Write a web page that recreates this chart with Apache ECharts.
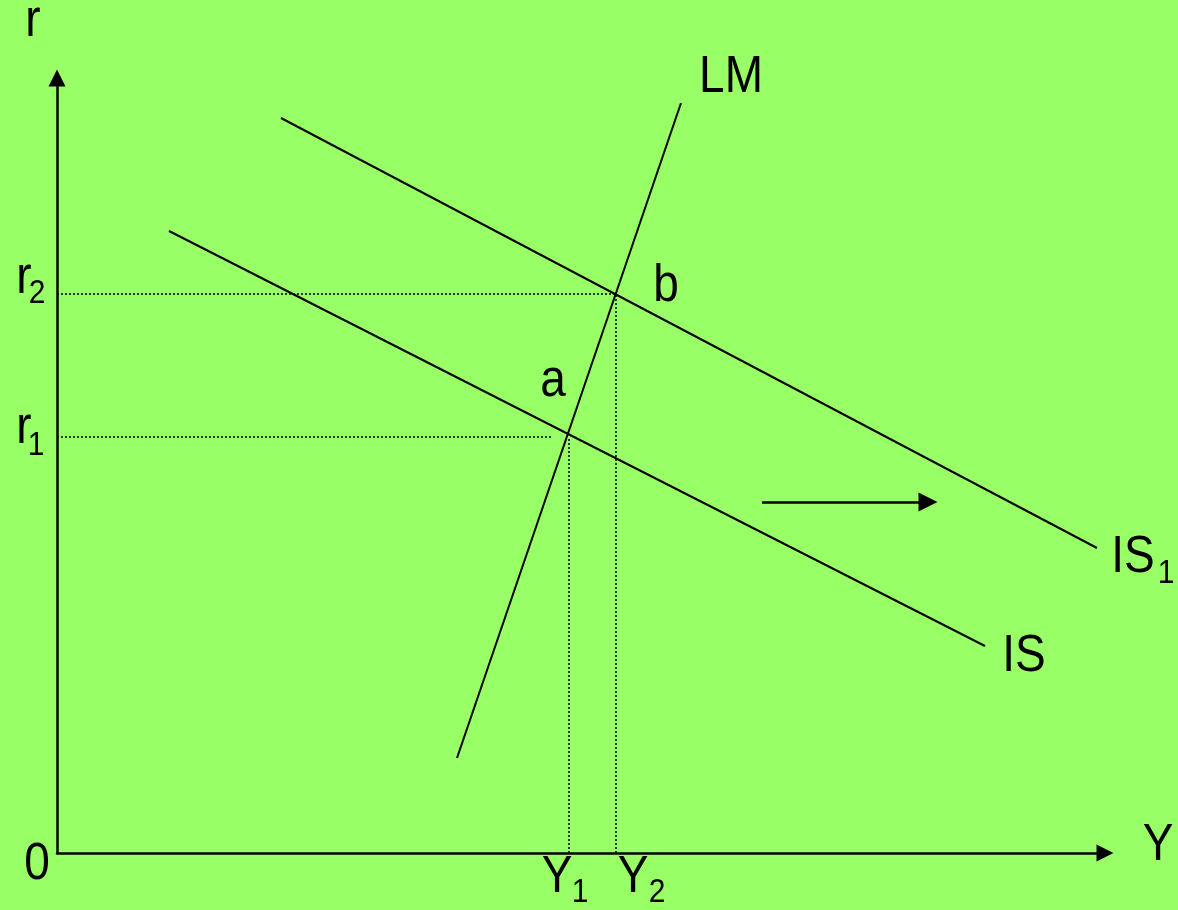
<!DOCTYPE html>
<html>
<head>
<meta charset="utf-8">
<script src="https://cdn.jsdelivr.net/npm/echarts@6/dist/echarts.min.js"></script>
<style>
  html, body { margin: 0; padding: 0; background: #99ff66; }
  #main { width: 1178px; height: 910px; }
</style>
</head>
<body>
<div id="main"></div>
<script>
// curve end points (Y, r)
const lmLine = [[400, 95], [624, 750]];
const isLine = [[112, 622], [928, 207]];
const is1Line = [[224, 735], [1040, 305]];

// equilibrium points
const Y1 = 512, r1 = 416;
const Y2 = 559, r2 = 559;
const r1GuideEnd = 496;

// shift arrow
const shiftArrow = [[705, 351], [871, 351]];

// text labels: [text, x, y, isSubscript]
const labels = [
  ['r', -24, 831, false],
  ['r', -33, 574, false], ['2', -20, 559, true],
  ['r', -33, 424, false], ['1', -21, 407, true],
  ['0', -20, -12, false],
  ['Y', 1101, 7, false],
  ['Y', 500, -25, false], ['1', 523, -40, true],
  ['Y', 576, -25, false], ['2', 600, -40, true],
  ['LM', 674, 775, false],
  ['b', 609, 566, false],
  ['a', 496, 471, false],
  ['IS', 1076, 295, false], ['1', 1109, 279, true],
  ['IS', 967, 196, false]
];

const chart = echarts.init(document.getElementById('main'));

const solid = { color: '#000', width: 2 };
const dotted = { color: '#000', width: 1.5, type: [2, 2] };

function seg(pts, style) {
  return {
    type: 'line',
    data: pts,
    showSymbol: false,
    symbol: 'none',
    silent: true,
    animation: false,
    lineStyle: style
  };
}

const font = 'Liberation Sans, Arial, sans-serif';

const axisCommon = {
  type: 'value',
  axisLine: {
    onZero: false,
    symbol: ['none', 'triangle'], symbolSize: [17, 17],
    lineStyle: { color: '#000', width: 2.5 }
  },
  axisTick: { show: false }, axisLabel: { show: false }, splitLine: { show: false }
};

chart.setOption({
  backgroundColor: '#99ff66',
  animation: false,
  grid: { left: 57, right: 73, top: 78, bottom: 57 },
  xAxis: Object.assign({ min: 0, max: 1048 }, axisCommon),
  yAxis: Object.assign({ min: 0, max: 775 }, axisCommon),
  series: [
    seg(lmLine, solid),
    seg(isLine, solid),
    seg(is1Line, solid),
    seg([[0, r2], [Y2, r2]], dotted),
    seg([[Y2, 0], [Y2, r2]], dotted),
    seg([[0, r1], [r1GuideEnd, r1]], dotted),
    seg([[Y1, 0], [Y1, r1]], dotted),
    {
      type: 'lines',
      coordinateSystem: 'cartesian2d',
      silent: true,
      symbol: ['none', 'triangle'],
      symbolSize: 19,
      lineStyle: { color: '#000', width: 2.5, opacity: 1 },
      data: [{ coords: shiftArrow }]
    }
  ]
});

// text placed through the grid's scales, slightly stretched vertically like the original slide
chart.setOption({
  graphic: labels.map(l => {
    const p = chart.convertToPixel({ gridIndex: 0 }, [l[1], l[2]]);
    return {
      type: 'text',
      x: p[0],
      y: p[1],
      scaleY: 1.12,
      silent: true,
      style: {
        text: l[0],
        fill: '#000',
        fontFamily: font,
        fontSize: l[3] ? 30 : 46,
        align: 'center',
        verticalAlign: 'middle'
      }
    };
  })
});
</script>
</body>
</html>
